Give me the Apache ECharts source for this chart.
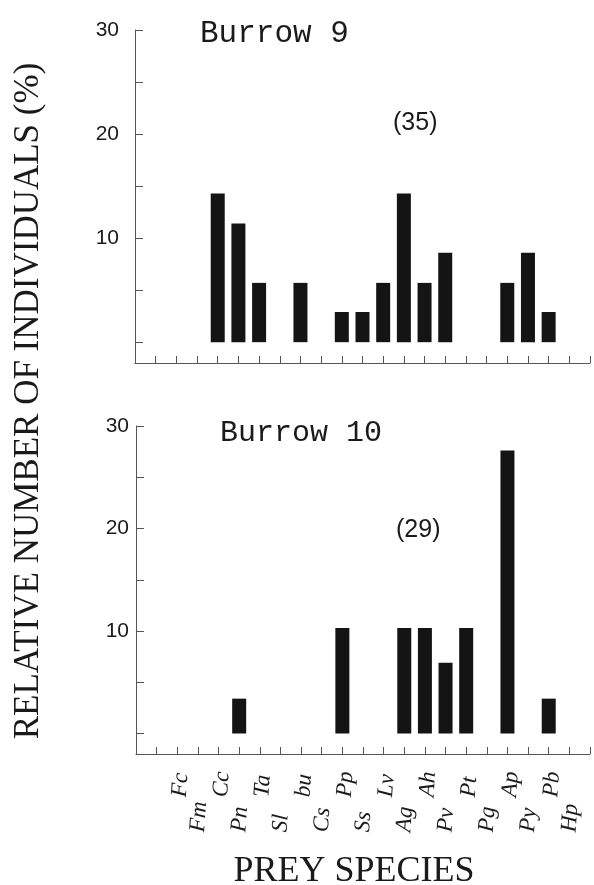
<!DOCTYPE html>
<html>
<head>
<meta charset="utf-8">
<script src="https://cdn.jsdelivr.net/npm/echarts@6/dist/echarts.min.js"></script>
<style>
  html, body { margin: 0; padding: 0; background: #fff; }
  #chart { width: 594px; height: 885px; }
</style>
</head>
<body>
<div id="chart"></div>
<script>
// Prey species, in axis order
const species = ['Fc', 'Fm', 'Cc', 'Pn', 'Ta', 'Sl', 'bu', 'Cs', 'Pp', 'Ss',
                 'Lv', 'Ag', 'Ah', 'Pv', 'Pt', 'Pg', 'Ap', 'Py', 'Pb', 'Hp'];

// Relative number of individuals (%) per species
const burrow9 = [0, 0, 14.3, 11.4, 5.7, 0, 5.7, 0, 2.9, 2.9,
                 5.7, 14.3, 5.7, 8.6, 0, 0, 5.7, 8.6, 2.9, 0];
const burrow10 = [0, 0, 0, 3.4, 0, 0, 0, 0, 10.3, 0,
                  0, 10.3, 10.3, 6.9, 10.3, 0, 27.6, 0, 3.4, 0];

// Sample sizes (number of individuals)
const burrow9N = 35;
const burrow10N = 29;

// Axis ticks
const yLabelValues = [10, 20, 30];
const yTickValues = [0, 5, 10, 15, 20, 25, 30];

// One blank slot before the first species and one after the last
const axisSlots = ['', ''].concat(species, ['']);
const pad = (vals) => [null, null].concat(vals.map(v => (v > 0 ? v : null)), [null]);

const ink = '#1a1a1a';
const lineColor = '#555';
const serif = 'Liberation Serif';
const sans = 'Liberation Sans';

function xAxisFor(gridIndex, showLabels) {
  const labelFont = { fontFamily: serif, fontStyle: 'italic', fontSize: 23, color: ink };
  return {
    type: 'category',
    gridIndex: gridIndex,
    data: axisSlots,
    boundaryGap: false,
    axisLine: { onZero: false, lineStyle: { color: lineColor, width: 1 } },
    axisTick: { inside: true, length: 7, interval: 0, lineStyle: { color: lineColor } },
    axisLabel: {
      show: showLabels,
      interval: 0,
      rotate: 86,
      align: 'left',
      verticalAlign: 'middle',
      margin: 78,
      // species names alternate between two staggered rows
      formatter: function (value) {
        const i = species.indexOf(value);
        if (i < 0) return '';
        return (i % 2 ? '{lo|' : '{hi|') + value + '}';
      },
      rich: {
        hi: Object.assign({ padding: [0, 0, 0, 35] }, labelFont),
        lo: Object.assign({}, labelFont)
      }
    },
    splitLine: { show: false }
  };
}

function yAxisFor(gridIndex, labelMargin) {
  return {
    type: 'value',
    gridIndex: gridIndex,
    min: -2,
    max: 30,
    axisLine: { show: true, lineStyle: { color: lineColor, width: 1 } },
    axisTick: { show: true, inside: true, length: 8, customValues: yTickValues,
                lineStyle: { color: lineColor } },
    axisLabel: { customValues: yLabelValues, margin: labelMargin,
                 fontFamily: sans, fontSize: 21, color: ink },
    splitLine: { show: false }
  };
}

function barSeries(index, values) {
  return {
    type: 'bar',
    xAxisIndex: index,
    yAxisIndex: index,
    data: pad(values),
    barWidth: 14,
    itemStyle: { color: '#141414' },
    silent: true
  };
}

const chart = echarts.init(document.getElementById('chart'), null, { renderer: 'canvas' });

chart.setOption({
  backgroundColor: '#ffffff',
  animation: false,
  grid: [
    { left: 135, top: 30, width: 455, height: 333 },
    { left: 136, top: 426, width: 454, height: 328 }
  ],
  xAxis: [xAxisFor(0, false), xAxisFor(1, true)],
  yAxis: [yAxisFor(0, 16), yAxisFor(1, 7)],
  series: [barSeries(0, burrow9), barSeries(1, burrow10)],
  graphic: [
    { type: 'text', left: 200, top: 18,
      style: { text: 'Burrow 9', font: '31px "Liberation Mono"', fill: ink } },
    { type: 'text', left: 220, top: 418,
      style: { text: 'Burrow 10', font: '30px "Liberation Mono"', fill: ink } },
    { type: 'text', left: 393, top: 111,
      style: { text: '(' + burrow9N + ')', font: '25px "Liberation Sans"', fill: ink } },
    { type: 'text', left: 396, top: 518,
      style: { text: '(' + burrow10N + ')', font: '25px "Liberation Sans"', fill: ink } },
    { type: 'text', x: 29, y: 401, rotation: Math.PI / 2,
      style: { text: 'RELATIVE NUMBER OF INDIVIDUALS (%)', font: '35px "Liberation Serif"',
               fill: ink, align: 'center', verticalAlign: 'middle' } },
    { type: 'text', x: 354, y: 872,
      style: { text: 'PREY SPECIES', font: '36px "Liberation Serif"',
               fill: ink, align: 'center', verticalAlign: 'middle' } }
  ]
});
</script>
</body>
</html>
